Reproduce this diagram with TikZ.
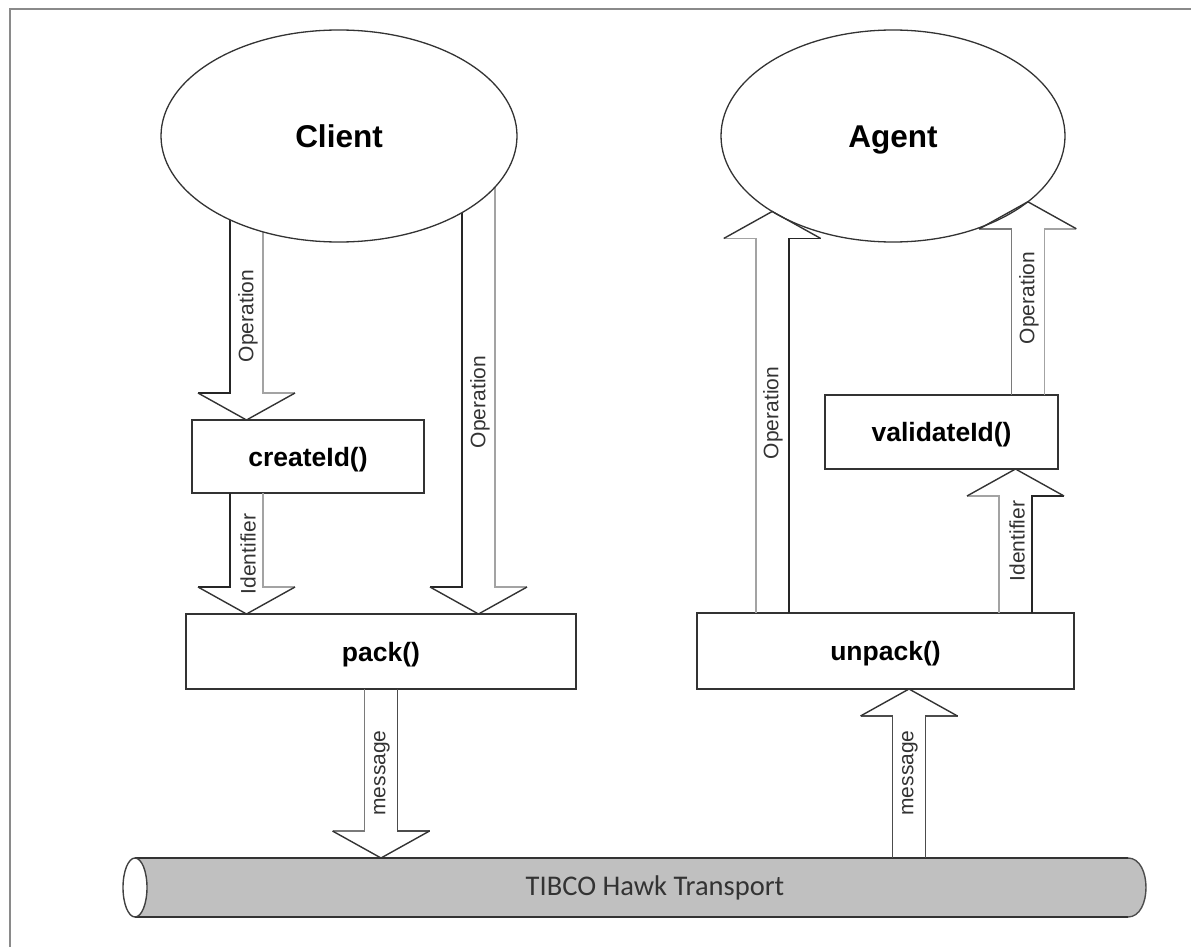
\documentclass[tikz,border=0pt]{standalone}
\usepackage{fontspec}
\setmainfont{Liberation Sans}
\newfontfamily\calfont{Carlito}
\usetikzlibrary{shapes.geometric,calc,backgrounds}
\definecolor{framecol}{HTML}{8A8A8A}
\definecolor{cylfill}{HTML}{C0C0C0}
% #1 start (only y used), #2 tip, #3 sign (+ down, - up), #4 left side, #5 right side, #6 head
\newcommand{\blockarrow}[6]{%
  \draw[#4] let \p1=#1, \p2=#2 in
    ({\x2-16.5pt},{\y1}) -- ({\x2-16.5pt},{\y2#327pt}) -- ({\x2-48.5pt},{\y2#327pt});
  \draw[#5] let \p1=#1, \p2=#2 in
    ({\x2+16.5pt},{\y1}) -- ({\x2+16.5pt},{\y2#327pt}) -- ({\x2+48.5pt},{\y2#327pt});
  \draw[#6] let \p2=#2 in
    ({\x2-48.5pt},{\y2#327pt}) -- (\x2,\y2) -- ({\x2+48.5pt},{\y2#327pt});
}
\begin{document}
\begin{tikzpicture}[x=1pt,y=-1pt,line join=miter,
  ell/.style={ellipse, draw=black!80, line width=1.3pt, fill=white, inner sep=0pt, outer sep=0pt, text height=22.6pt, text depth=0pt, font=\fontsize{31.5}{36}\selectfont\bfseries},
  box/.style={rectangle, draw=black!80, line width=1.8pt, fill=white, inner sep=0pt, outer sep=0pt, text height=19pt, text depth=0pt, font=\fontsize{26.5}{30}\selectfont\bfseries},
  lbl/.style={rotate=90, inner sep=0pt, text=black!80, font=\fontsize{21}{24}\selectfont},
  dkside/.style={draw=black!85, line width=1.6pt},
  dgside/.style={draw=black!70, line width=1.6pt},
  mdside/.style={draw=black!52, line width=1.6pt},
  ltside/.style={draw=black!36, line width=1.6pt},
  headline/.style={draw=black!80, line width=1.4pt},
]
\useasboundingbox (0,0) rectangle (1191,947);
\draw[framecol, line width=2.5pt] (10,947) -- (10,9) -- (1191,9);

% ellipses
\node[ell, minimum width=356pt, minimum height=212pt] (client) at (339,136) {Client};
\node[ell, minimum width=344pt, minimum height=212pt] (agent) at (893,136) {Agent};

% boxes
\node[box, minimum width=232pt, minimum height=73pt] (createId) at (308,456.5) {createId()};
\node[box, minimum width=390pt, minimum height=75pt] (pack) at (381,651.5) {pack()};
\node[box, minimum width=377pt, minimum height=76pt] (unpack) at (885.5,651) {unpack()};
\node[box, minimum width=233pt, minimum height=74pt] (validateId) at (941.5,432) {validateId()};

% transport cylinder
\fill[cylfill] (135,858) -- (1128,858) .. controls (1152,858) and (1152,917) .. (1128,917) -- (135,917) -- cycle;
\draw[black!80, line width=1.8pt] (135,858) -- (1128,858);
\draw[black!80, line width=1.8pt] (135,917) -- (1128,917);
\draw[black!70, line width=1.4pt] (1128,858) .. controls (1152,858) and (1152,917) .. (1128,917);
\draw[black!75, line width=1.4pt, fill=white] (135,887.5) ellipse [x radius=12, y radius=29.5];
\node[font=\calfont\fontsize{28.5}{32}\selectfont, text=black!80, inner sep=0pt] (bus) at (655,888) {TIBCO Hawk Transport};
\coordinate (bustop) at (135,858);

% arrows from the client (start hidden behind the ellipse)
\begin{scope}[on background layer]
\blockarrow{(client.center)}{(246.5,0 |- createId.north)}{+}{dkside}{ltside}{headline}
\blockarrow{(client.center)}{(478.5,0 |- pack.north)}{+}{dkside}{ltside}{headline}
\end{scope}
\blockarrow{(246.5,0 |- createId.south)}{(246.5,0 |- pack.north)}{+}{dkside}{ltside}{headline}
\blockarrow{(pack.south)}{(pack.south |- bustop)}{+}{mdside}{dgside}{headline}

% arrows to the agent
\blockarrow{(909,0 |- bustop)}{(909,0 |- unpack.south)}{-}{dgside}{dgside}{headline}
\blockarrow{(771.5,0 |- unpack.north)}{(agent.212)}{-}{ltside}{dkside}{headline}
\blockarrow{(1015.5,0 |- unpack.north)}{(1015.5,0 |- validateId.south)}{-}{ltside}{dkside}{headline}
\blockarrow{(1028,0 |- validateId.north)}{(agent.334)}{-}{mdside}{ltside}{headline}

% labels
\node[lbl] (lop1) at (248,316) {Operation};
\node[lbl] (lop2) at (480,402) {Operation};
\node[lbl] (lid1) at (248,554) {Identifier};
\node[lbl] (lmsg1) at (382,773) {message};
\node[lbl] (lmsg2) at (910,773) {message};
\node[lbl] (lop3) at (773,413) {Operation};
\node[lbl] (lid2) at (1017,541) {Identifier};
\node[lbl] (lop4) at (1029,298) {Operation};
\end{tikzpicture}
\end{document}
